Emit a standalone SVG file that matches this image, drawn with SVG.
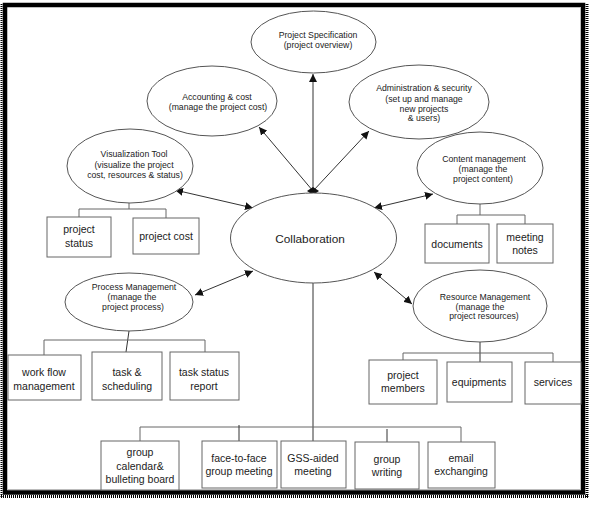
<svg xmlns="http://www.w3.org/2000/svg" width="596" height="506" viewBox="0 0 596 506">
<defs>
<marker id="ah" viewBox="0 0 10 10" refX="10" refY="5" markerWidth="8" markerHeight="8" markerUnits="userSpaceOnUse" orient="auto-start-reverse">
<path d="M0,0 L10,5 L0,10 z" fill="#111"/>
</marker>
</defs>
<style>
.el{fill:#fff;stroke:#555;stroke-width:1}
.bx{fill:#fff;stroke:#666;stroke-width:1}
.t{font-family:"Liberation Sans",Arial,sans-serif;font-size:8.7px;fill:#222;text-anchor:middle}
.bt{font-family:"Liberation Sans",Arial,sans-serif;font-size:10.5px;fill:#222;text-anchor:middle}
.ln{fill:none;stroke:#333;stroke-width:1}
.br{fill:none;stroke:#666;stroke-width:1}
</style>
<rect x="0" y="0" width="596" height="506" fill="#fff"/>
<g id="frame">
<line x1="1.5" y1="4" x2="1.5" y2="498" stroke="#000" stroke-width="2" stroke-dasharray="1,1"/>
<line x1="587" y1="4" x2="587" y2="498" stroke="#000" stroke-width="3" stroke-dasharray="1,1"/>
<line x1="1" y1="496.5" x2="589" y2="496.5" stroke="#000" stroke-width="3" stroke-dasharray="1,1"/>
<rect x="5" y="5" width="578" height="487.5" fill="none" stroke="#000" stroke-width="4.5"/>
<line x1="580.5" y1="7" x2="580.5" y2="490" stroke="#bbb" stroke-width="1"/>
<line x1="7" y1="489.5" x2="581" y2="489.5" stroke="#bbb" stroke-width="1"/>
</g>
<g id="connectors">
<line class="ln" x1="313" y1="191" x2="313" y2="74" marker-end="url(#ah)"/>
<line class="ln" x1="313" y1="191" x2="259" y2="127" marker-end="url(#ah)"/>
<line class="ln" x1="313" y1="191" x2="369" y2="131" marker-end="url(#ah)"/>
<path d="M307,191 L313,187 L319,191 L313,195 z" fill="#111"/>
<line class="ln" x1="175" y1="190" x2="253" y2="208" marker-start="url(#ah)" marker-end="url(#ah)"/>
<line class="ln" x1="374" y1="208" x2="433" y2="194" marker-start="url(#ah)" marker-end="url(#ah)"/>
<line class="ln" x1="195" y1="295" x2="253" y2="271" marker-start="url(#ah)" marker-end="url(#ah)"/>
<line class="ln" x1="374" y1="272" x2="412" y2="304" marker-start="url(#ah)" marker-end="url(#ah)"/>
<line class="ln" x1="313" y1="283" x2="313" y2="441"/>
<polyline class="br" points="129,203 129,209"/>
<polyline class="br" points="79,217 79,209 166,209 166,218"/>
<polyline class="br" points="480,204 480,215"/>
<polyline class="br" points="457,224 457,215 525,215 525,224"/>
<line class="ln" x1="129" y1="331" x2="126" y2="352"/>
<polyline class="br" points="44,355 44,340 205,340 205,352"/>
<line class="ln" x1="480" y1="342" x2="480" y2="362"/>
<polyline class="br" points="403,360 403,353 553,353 553,362"/>
<polyline class="br" points="140,441 140,427 461,427 461,442"/>
<line class="ln" x1="239" y1="425" x2="239" y2="441"/>
<line class="ln" x1="387" y1="429" x2="387" y2="442"/>
</g>
<g id="collaboration">
<ellipse class="el" cx="313.5" cy="238" rx="83" ry="45"/>
<text x="310" y="243" font-family="Liberation Sans,Arial,sans-serif" font-size="11.8" fill="#222" text-anchor="middle">Collaboration</text>
</g>
<g id="spec">
<ellipse class="el" cx="313.5" cy="42" rx="62.5" ry="31"/>
<text class="t" x="318" y="38">Project Specification</text>
<text class="t" x="318" y="48">(project overview)</text>
</g>
<g id="accounting">
<ellipse class="el" cx="212" cy="101" rx="65" ry="35"/>
<text class="t" x="217" y="100">Accounting &amp; cost</text>
<text class="t" x="218" y="110">(manage the project cost)</text>
</g>
<g id="admin">
<ellipse class="el" cx="419" cy="102" rx="70" ry="37"/>
<text class="t" x="424" y="91">Administration &amp; security</text>
<text class="t" x="424" y="102">(set up and manage</text>
<text class="t" x="424" y="112">new projects</text>
<text class="t" x="424" y="121">&amp; users)</text>
</g>
<g id="visualization">
<ellipse class="el" cx="130" cy="166" rx="63" ry="37"/>
<text class="t" x="134" y="157">Visualization Tool</text>
<text class="t" x="134" y="168">(visualize the project</text>
<text class="t" x="135" y="178">cost, resources &amp; status)</text>
</g>
<g id="content">
<ellipse class="el" cx="480" cy="168" rx="63" ry="36"/>
<text class="t" x="484" y="162">Content management</text>
<text class="t" x="483" y="172">(manage the</text>
<text class="t" x="483" y="182">project content)</text>
</g>
<g id="process">
<ellipse class="el" cx="129" cy="302" rx="64" ry="29"/>
<text class="t" x="134" y="290">Process Management</text>
<text class="t" x="132" y="300">(manage the</text>
<text class="t" x="133" y="310">project process)</text>
</g>
<g id="resource">
<ellipse class="el" cx="480" cy="306" rx="67" ry="36"/>
<text class="t" x="485" y="300">Resource Management</text>
<text class="t" x="480" y="310">(manage the</text>
<text class="t" x="484" y="319">project resources)</text>
</g>
<g id="project-status">
<rect class="bx" x="47" y="217" width="64" height="40"/>
<text class="bt" x="79" y="233">project</text>
<text class="bt" x="79" y="247">status</text>
</g>
<g id="project-cost">
<rect class="bx" x="133" y="218" width="66" height="36"/>
<text class="bt" x="166" y="240">project cost</text>
</g>
<g id="documents">
<rect class="bx" x="425" y="224" width="64" height="39"/>
<text class="bt" x="457" y="248">documents</text>
</g>
<g id="meeting-notes">
<rect class="bx" x="497" y="224" width="56" height="39"/>
<text class="bt" x="525" y="241">meeting</text>
<text class="bt" x="525" y="254">notes</text>
</g>
<g id="work-flow">
<rect class="bx" x="8" y="355" width="73" height="45"/>
<text class="bt" x="44" y="376">work flow</text>
<text class="bt" x="44" y="390">management</text>
</g>
<g id="task-scheduling">
<rect class="bx" x="92" y="352" width="70" height="48"/>
<text class="bt" x="127" y="376">task &amp;</text>
<text class="bt" x="127" y="390">scheduling</text>
</g>
<g id="task-status">
<rect class="bx" x="170" y="352" width="69" height="48"/>
<text class="bt" x="204" y="376">task status</text>
<text class="bt" x="204" y="390">report</text>
</g>
<g id="project-members">
<rect class="bx" x="369" y="360" width="68" height="44"/>
<text class="bt" x="403" y="379">project</text>
<text class="bt" x="403" y="392">members</text>
</g>
<g id="equipments">
<rect class="bx" x="447" y="362" width="65" height="40"/>
<text class="bt" x="479" y="386">equipments</text>
</g>
<g id="services">
<rect class="bx" x="525" y="362" width="56" height="42"/>
<text class="bt" x="553" y="386">services</text>
</g>
<g id="group-calendar">
<rect class="bx" x="101" y="441" width="78" height="49"/>
<text class="bt" x="140" y="456">group</text>
<text class="bt" x="140" y="470">calendar&amp;</text>
<text class="bt" x="140" y="483">bulleting board</text>
</g>
<g id="face-to-face">
<rect class="bx" x="202" y="441" width="75" height="47"/>
<text class="bt" x="239" y="462">face-to-face</text>
<text class="bt" x="239" y="475">group meeting</text>
</g>
<g id="gss">
<rect class="bx" x="281" y="441" width="65" height="47"/>
<text class="bt" x="313" y="462">GSS-aided</text>
<text class="bt" x="313" y="475">meeting</text>
</g>
<g id="group-writing">
<rect class="bx" x="355" y="442" width="64" height="47"/>
<text class="bt" x="387" y="463">group</text>
<text class="bt" x="387" y="476">writing</text>
</g>
<g id="email">
<rect class="bx" x="428" y="442" width="67" height="46"/>
<text class="bt" x="461" y="462">email</text>
<text class="bt" x="461" y="475">exchanging</text>
</g>
</svg>
